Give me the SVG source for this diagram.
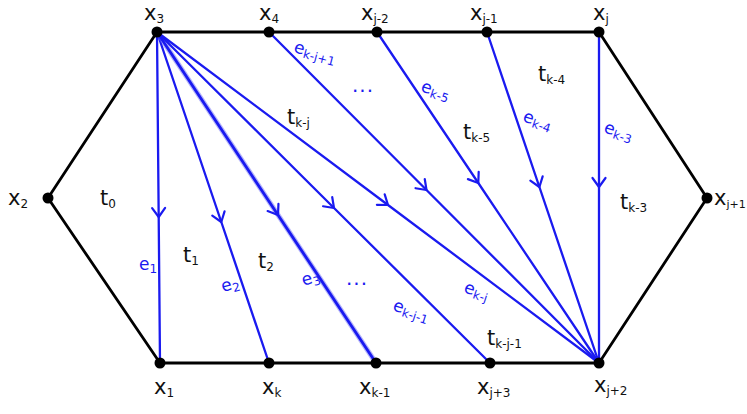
<svg xmlns="http://www.w3.org/2000/svg" width="747" height="414" viewBox="0 0 747 414">
<style>
.bk{stroke:#000;stroke-width:2.8;fill:none;stroke-linecap:round;stroke-linejoin:round}
.bl{stroke:#1a1af0;stroke-width:2.3;fill:none;stroke-linecap:round;marker-mid:url(#chev)}
.nd{fill:#000}
.lx{font-family:"DejaVu Sans","Liberation Sans",sans-serif;font-size:21px;fill:#111}
.lt{font-family:"DejaVu Sans","Liberation Sans",sans-serif;font-size:21px;fill:#111}
.le{font-family:"DejaVu Sans","Liberation Sans",sans-serif;font-size:17px;fill:#1a1af0}
.sub{font-size:12px}
</style>
<defs>
<marker id="chev" markerUnits="userSpaceOnUse" markerWidth="20" markerHeight="20" refX="0" refY="0" orient="auto" overflow="visible" viewBox="-10 -10 20 20">
<path d="M-9,-6.5 L0,0 L-9,6.5" fill="none" stroke="#1a1af0" stroke-width="2.2" stroke-linecap="round" stroke-linejoin="round"/>
</marker>
</defs>
<rect width="747" height="414" fill="#fff"/>
<g id="connectors">
<path class="bk" d="M157,32 L599,32 L707,198 L599,363 L160,363 L48,198 Z"/>
<path class="bl" d="M157,32 L158.7,217 L160,363"/>
<path class="bl" d="M157,32 L221.3,222 L269,363"/>
<path d="M157,32 L376,363" stroke="#6a6af8" stroke-width="5" fill="none" opacity="0.5"/>
<path class="bl" d="M157,32 L278,215 L376,363" style="stroke-width:2.8"/>
<path class="bl" d="M157,32 L334,208 L490,363"/>
<path class="bl" d="M157,32 L388,205 L599,363"/>
<path class="bl" d="M269,32 L426.5,190 L599,363"/>
<path class="bl" d="M377,32 L478.3,183 L599,363"/>
<path class="bl" d="M487,32 L539.4,187 L599,363"/>
<path class="bl" d="M599,32 L599,187 L599,363"/>
</g>
<g id="x3"><circle class="nd" cx="157" cy="32" r="5.5"/><text class="lx" x="144" y="20">x<tspan class="sub" dy="3">3</tspan></text></g>
<g id="x4"><circle class="nd" cx="269" cy="32" r="5.5"/><text class="lx" x="259" y="20">x<tspan class="sub" dy="3">4</tspan></text></g>
<g id="xj-2"><circle class="nd" cx="377" cy="32" r="5.5"/><text class="lx" x="361" y="20">x<tspan class="sub" dy="3">j-2</tspan></text></g>
<g id="xj-1"><circle class="nd" cx="487" cy="32" r="5.5"/><text class="lx" x="470" y="20">x<tspan class="sub" dy="3">j-1</tspan></text></g>
<g id="xj"><circle class="nd" cx="599" cy="32" r="5.5"/><text class="lx" x="593" y="20">x<tspan class="sub" dy="3">j</tspan></text></g>
<g id="x2"><circle class="nd" cx="48" cy="198" r="5.5"/><text class="lx" x="8" y="205">x<tspan class="sub" dy="3">2</tspan></text></g>
<g id="xj+1"><circle class="nd" cx="707" cy="198" r="5.5"/><text class="lx" x="714" y="205">x<tspan class="sub" dy="3" style="font-size:11px">j+1</tspan></text></g>
<g id="x1"><circle class="nd" cx="160" cy="363" r="5.5"/><text class="lx" x="154" y="394">x<tspan class="sub" dy="3">1</tspan></text></g>
<g id="xk"><circle class="nd" cx="269" cy="363" r="5.5"/><text class="lx" x="262" y="394">x<tspan class="sub" dy="3">k</tspan></text></g>
<g id="xk-1"><circle class="nd" cx="376" cy="363" r="5.5"/><text class="lx" x="359" y="394">x<tspan class="sub" dy="3">k-1</tspan></text></g>
<g id="xj+3"><circle class="nd" cx="490" cy="363" r="5.5"/><text class="lx" x="477" y="394">x<tspan class="sub" dy="3">j+3</tspan></text></g>
<g id="xj+2"><circle class="nd" cx="599" cy="363" r="5.5"/><text class="lx" x="594" y="392">x<tspan class="sub" dy="3">j+2</tspan></text></g>
<g id="triangle-labels">
<text class="lt" x="100" y="205">t<tspan class="sub" dy="3">0</tspan></text>
<text class="lt" x="183" y="262">t<tspan class="sub" dy="3">1</tspan></text>
<text class="lt" x="258" y="268">t<tspan class="sub" dy="3">2</tspan></text>
<text class="lt" x="287" y="124">t<tspan class="sub" dy="3">k-j</tspan></text>
<text class="lt" x="463" y="139">t<tspan class="sub" dy="3">k-5</tspan></text>
<text class="lt" x="538" y="81">t<tspan class="sub" dy="3">k-4</tspan></text>
<text class="lt" x="620" y="209">t<tspan class="sub" dy="3">k-3</tspan></text>
<text class="lt" x="487" y="345">t<tspan class="sub" dy="3">k-j-1</tspan></text>
</g>
<g id="edge-labels">
<text class="le" x="139" y="270">e<tspan class="sub" dy="3">1</tspan></text>
<text class="le" x="222" y="290" transform="rotate(-15 230 288)">e<tspan class="sub" dy="3">2</tspan></text>
<text class="le" x="303" y="284" transform="rotate(-15 310 284)">e<tspan class="sub" dy="3">3</tspan></text>
<text class="le" x="346" y="285" style="font-size:20px;letter-spacing:1px">...</text>
<text class="le" x="352" y="92" style="font-size:20px;letter-spacing:1px">...</text>
<text class="le" x="392" y="310" transform="rotate(18 392 310)">e<tspan class="sub" dy="3">k-j-1</tspan></text>
<text class="le" x="463" y="292" transform="rotate(18 463 292)">e<tspan class="sub" dy="3">k-j</tspan></text>
<text class="le" x="293" y="52" transform="rotate(15 293 52)">e<tspan class="sub" dy="3">k-j+1</tspan></text>
<text class="le" x="420" y="91" transform="rotate(18 420 91)">e<tspan class="sub" dy="3">k-5</tspan></text>
<text class="le" x="522" y="121" transform="rotate(18 522 121)">e<tspan class="sub" dy="3">k-4</tspan></text>
<text class="le" x="603" y="132" transform="rotate(18 603 132)">e<tspan class="sub" dy="3">k-3</tspan></text>
</g>
</svg>
